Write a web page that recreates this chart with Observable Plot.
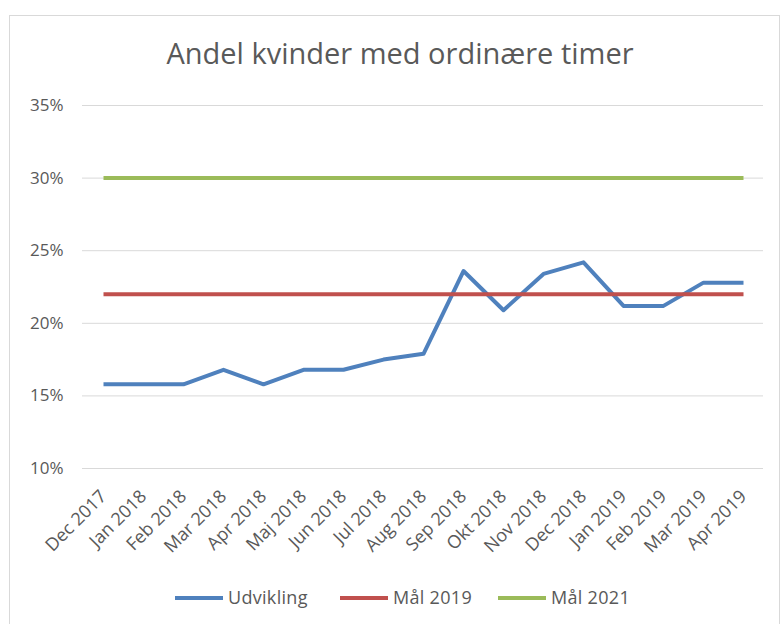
<!DOCTYPE html>
<html>
<head>
<meta charset="utf-8">
<script src="https://cdn.jsdelivr.net/npm/d3@7"></script>
<script src="https://cdn.jsdelivr.net/npm/@observablehq/plot@0.6"></script>
<style>
  html, body { margin: 0; padding: 0; background: #fff; }
  body { width: 784px; height: 624px; position: relative; overflow: hidden; font-family: "Open Sans", sans-serif; }
  #frame { position: absolute; left: 9px; top: 15px; width: 771px; height: 620px; border: 1px solid #d9d9d9; box-sizing: border-box; }
  #title { position: absolute; left: 0; width: 800px; top: 33px; text-align: center; font-size: 29px; color: #595959; }
  #chart { position: absolute; left: 0; top: 85px; }
  #legend { position: absolute; top: 586px; left: 0; width: 784px; font-size: 18px; letter-spacing: 0.3px; color: #595959; }
  .item { position: absolute; top: 0; height: 22px; line-height: 22px; white-space: nowrap; }
  .sw { display: inline-block; width: 48px; height: 4px; vertical-align: middle; margin-right: 5px; position: relative; top: -1px; }
</style>
</head>
<body>
<div id="frame"></div>
<div id="title">Andel kvinder med ordinære timer</div>
<div id="chart"></div>
<div id="legend"></div>
<script>
const months = ["Dec 2017","Jan 2018","Feb 2018","Mar 2018","Apr 2018","Maj 2018","Jun 2018","Jul 2018","Aug 2018","Sep 2018","Okt 2018","Nov 2018","Dec 2018","Jan 2019","Feb 2019","Mar 2019","Apr 2019"];
const udvikling = [15.8,15.8,15.8,16.8,15.8,16.8,16.8,17.5,17.9,23.6,20.9,23.4,24.2,21.2,21.2,22.8,22.8];
const maal2019 = 22;
const maal2021 = 30;
const yTicks = [10,15,20,25,30,35];
const seriesNames = ["Udvikling","Mål 2019","Mål 2021"];
const seriesColors = ["#4F81BD","#C0504D","#9BBB59"];

const rows = [];
months.forEach((m, i) => {
  rows.push({month: m, value: udvikling[i], series: seriesNames[0]});
  rows.push({month: m, value: maal2019, series: seriesNames[1]});
  rows.push({month: m, value: maal2021, series: seriesNames[2]});
});

const chart = Plot.plot({
  width: 784,
  height: 483,
  marginTop: 20,
  marginBottom: 100,
  marginLeft: 82,
  marginRight: 21,
  style: {fontFamily: "'Open Sans', sans-serif", fontSize: "17px", color: "#595959", background: "transparent"},
  x: {type: "point", domain: months, padding: 0.5, label: null},
  y: {domain: [10, 35], label: null},
  color: {domain: seriesNames, range: seriesColors},
  marks: [
    Plot.gridY(yTicks, {stroke: "#d9d9d9", strokeOpacity: 1, strokeWidth: 1}),
    Plot.axisX({tickSize: 0, tickRotate: -45, tickPadding: 25, fontSize: 18, label: null}),
    Plot.axisY({ticks: yTicks, tickFormat: d => d + "%", tickSize: 0, tickPadding: 19, fontSize: 17, label: null}),
    Plot.line(rows, {x: "month", y: "value", z: "series", stroke: "series", strokeWidth: 4, strokeLinejoin: "round", strokeLinecap: "butt"})
  ]
});
document.getElementById("chart").appendChild(chart);

const legend = document.getElementById("legend");
const lefts = [175, 340, 498];
seriesNames.forEach((name, i) => {
  const d = document.createElement("div");
  d.className = "item";
  d.style.left = lefts[i] + "px";
  d.innerHTML = `<span class="sw" style="background:${seriesColors[i]}"></span>${name}`;
  legend.appendChild(d);
});
</script>
</body>
</html>
